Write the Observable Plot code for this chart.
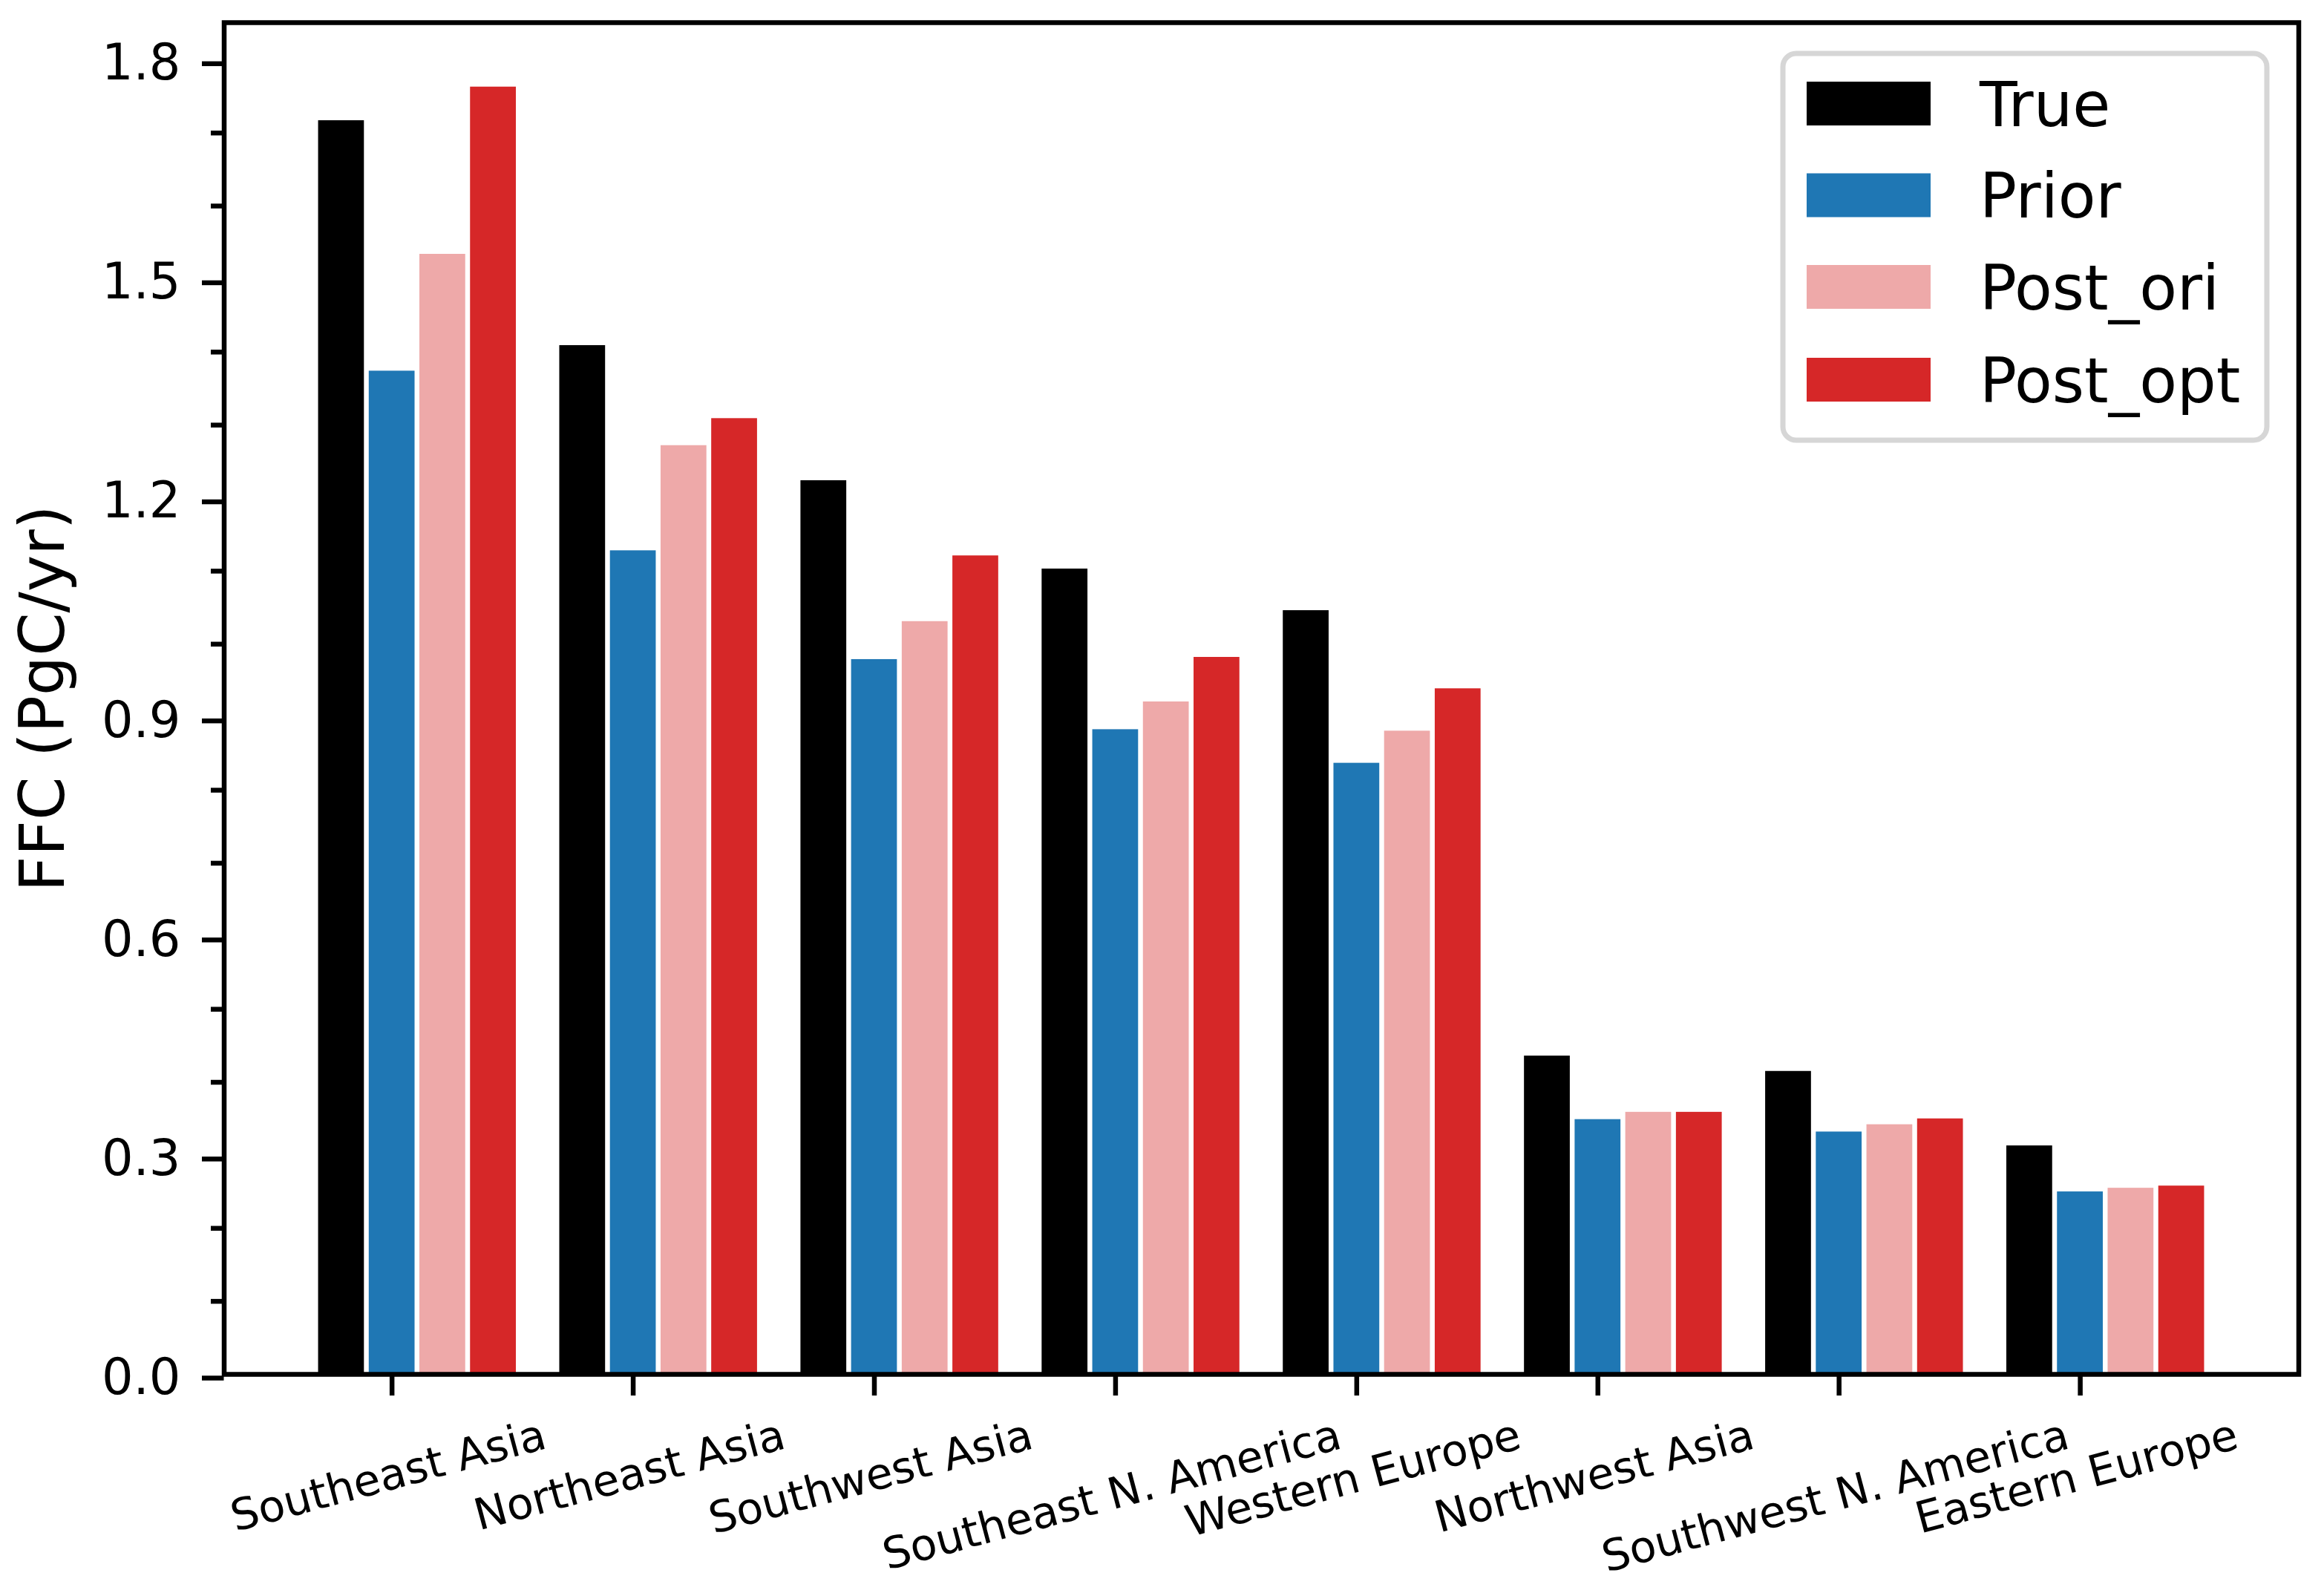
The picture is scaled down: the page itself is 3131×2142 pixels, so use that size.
<!DOCTYPE html>
<html>
<head>
<meta charset="utf-8">
<script src="https://cdn.jsdelivr.net/npm/d3@7"></script>
<script src="https://cdn.jsdelivr.net/npm/@observablehq/plot@0.6"></script>
<style>
  html, body { margin: 0; padding: 0; background: white; }
  #wrap { position: relative; width: 3131px; height: 2142px; }
  #legend { position: absolute; left: 0; top: 0; pointer-events: none; }
</style>
</head>
<body>
<div id="wrap"></div>
<script>
// ---- data ----
const categories = ["Southeast Asia", "Northeast Asia", "Southwest Asia", "Southeast N. America",
                    "Western Europe", "Northwest Asia", "Southwest N. America", "Eastern Europe"];
const seriesNames = ["True", "Prior", "Post_ori", "Post_opt"];
const seriesColors = ["#000000", "#1f77b4", "#eea9a9", "#d62728"];
const trueVals    = [1.717, 1.409, 1.224, 1.103, 1.046, 0.436, 0.415, 0.313];
const priorVals   = [1.374, 1.128, 0.979, 0.883, 0.837, 0.349, 0.332, 0.250];
const postOriVals = [1.534, 1.272, 1.031, 0.921, 0.881, 0.359, 0.342, 0.255];
const postOptVals = [1.763, 1.309, 1.121, 0.982, 0.939, 0.359, 0.350, 0.258];
const yMajorTicks = [0, 0.3, 0.6, 0.9, 1.2, 1.5, 1.8];
const yMinorTicks = [0.1, 0.2, 0.4, 0.5, 0.7, 0.8, 1.0, 1.1, 1.3, 1.4, 1.6, 1.7];

// ---- layout ----
const W = 3131, H = 2142;
const mL = 301.5, mR = 34.5, mT = 30, mB = 291;
const step = 0.21, barW = 0.19;
const offsets = [-1, 0, 1, 2].map(k => k * step);
const allVals = [trueVals, priorVals, postOriVals, postOptVals];

const rows = [];
allVals.forEach((vals, s) => vals.forEach((v, i) => rows.push({
  i, s, series: seriesNames[s], value: v,
  x1: i + offsets[s] - barW / 2, x2: i + offsets[s] + barW / 2
})));

const lo = offsets[0] - barW / 2, hi = (categories.length - 1) + offsets[3] + barW / 2;
const pad = 0.05 * (hi - lo);
const yMax = d3.max(allVals.flat()) * 1.05;

const FONT = "DejaVu Sans";
const lw = 6.5;
const xFont = 58.5;

// measure label widths to reproduce matplotlib's rotated-bbox alignment
const ctx = document.createElement("canvas").getContext("2d");
ctx.font = `${xFont}px "${FONT}"`;
const rad = 15 * Math.PI / 180;
const labelTop = 1917 - (H - mB);
const labelMarks = categories.map((c, i) => {
  const L = ctx.measureText(c).width;
  const bh = L * Math.sin(rad) + 1.164 * xFont * Math.cos(rad);
  return Plot.text([i], {
    x: d => d, frameAnchor: "bottom", text: d => categories[d],
    rotate: -15, fontSize: xFont, dy: labelTop + bh / 2, fill: "black", textAnchor: "middle"
  });
});

const chart = Plot.plot({
  width: W, height: H,
  marginLeft: mL, marginRight: mR, marginTop: mT, marginBottom: mB,
  style: { fontFamily: FONT, background: "white", color: "black", overflow: "visible" },
  x: { type: "linear", domain: [lo - pad, hi + pad] },
  y: { domain: [0, yMax] },
  color: { domain: seriesNames, range: seriesColors },
  marks: [
    Plot.rect(rows, { x1: "x1", x2: "x2", y1: 0, y2: "value", fill: "series" }),
    Plot.axisY({ ticks: yMinorTicks, tickSize: 17.5, strokeWidth: lw, tickFormat: () => "", label: null }),
    Plot.axisY({ ticks: yMajorTicks, tickSize: 29.5, tickPadding: 29, strokeWidth: lw,
                 tickFormat: d3.format(".1f"), fontSize: 67, dy: 5, label: null }),
    Plot.axisX({ ticks: d3.range(categories.length), tickSize: 29, strokeWidth: lw,
                 tickFormat: () => "", label: null }),
    ...labelMarks,
    Plot.text(["FFC (PgC/yr)"], { frameAnchor: "left", text: d => d, rotate: -90, textAnchor: "middle",
                 fontSize: 83.7, dx: -242.7, fill: "black" }),
    Plot.frame({ stroke: "black", strokeWidth: lw })
  ]
});
document.getElementById("wrap").appendChild(chart);

// ---- legend (inside the axes, upper right) ----
const leg = d3.select("#wrap").append("svg")
  .attr("id", "legend").attr("width", W).attr("height", H)
  .style("font-family", FONT);
leg.append("rect")
  .attr("x", 2402).attr("y", 72).attr("width", 652).attr("height", 521)
  .attr("rx", 18).attr("fill", "white").attr("stroke", "#d6d6d6").attr("stroke-width", 7);
const patchY = [110, 233.5, 357, 482];
seriesNames.forEach((name, k) => {
  leg.append("rect").attr("x", 2434).attr("y", patchY[k]).attr("width", 167).attr("height", 59)
    .attr("fill", seriesColors[k]);
  leg.append("text").attr("x", 2667).attr("y", patchY[k] + 29.5 + 30)
    .attr("font-size", 83).attr("fill", "black").text(name);
});
</script>
</body>
</html>
